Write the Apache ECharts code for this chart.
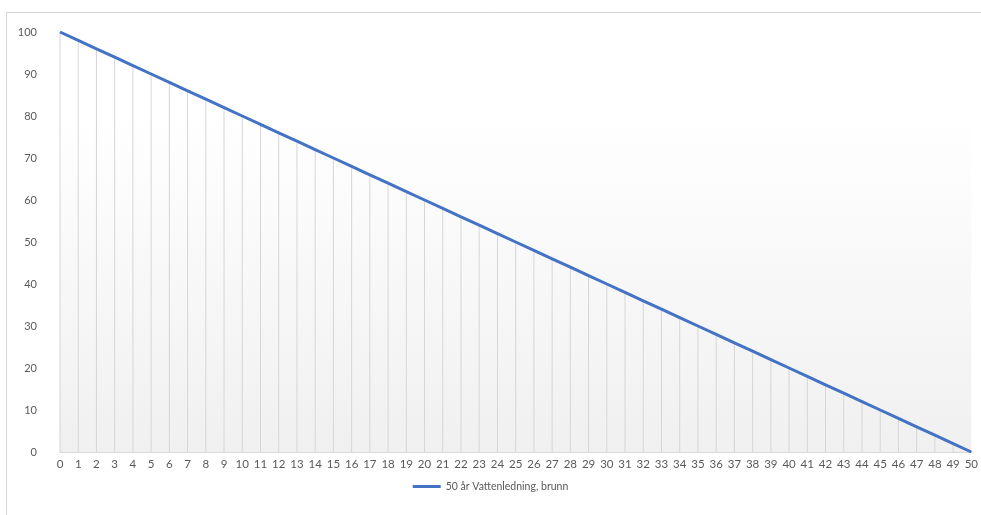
<!DOCTYPE html>
<html>
<head>
<meta charset="utf-8">
<script src="https://cdn.jsdelivr.net/npm/echarts@6/dist/echarts.min.js"></script>
<style>
  html, body { margin: 0; padding: 0; background: #ffffff; }
  #chart { width: 981px; height: 515px; }
</style>
</head>
<body>
<div id="chart"></div>
<script>
// Years of service life
const years = ['0','1','2','3','4','5','6','7','8','9','10','11','12','13','14','15','16','17','18','19','20',
  '21','22','23','24','25','26','27','28','29','30','31','32','33','34','35','36','37','38','39','40',
  '41','42','43','44','45','46','47','48','49','50'];

// Remaining value (%) per year
const remainingValue = [100,98,96,94,92,90,88,86,84,82,80,78,76,74,72,70,68,66,64,62,60,
  58,56,54,52,50,48,46,44,42,40,38,36,34,32,30,28,26,24,22,20,
  18,16,14,12,10,8,6,4,2,0];

const seriesName = '50 år Vattenledning, brunn';
const yTicks = { min: 0, max: 100, interval: 10 };

const chart = echarts.init(document.getElementById('chart'));
const fontFamily = 'Lato, "Liberation Sans", sans-serif';

chart.setOption({
  animation: false,
  backgroundColor: '#ffffff',
  textStyle: { fontFamily: fontFamily },
  graphic: [
    {
      type: 'rect',
      shape: { x: 6.5, y: 12.5, width: 990, height: 520 },
      style: { fill: 'none', stroke: '#d4d4d4', lineWidth: 1 },
      z: -10
    }
  ],
  grid: {
    left: 60, right: 9, top: 32, bottom: 63,
    show: true,
    borderWidth: 0,
    backgroundColor: {
      type: 'linear', x: 0, y: 0, x2: 0, y2: 1,
      colorStops: [
        { offset: 0, color: '#ffffff' },
        { offset: 0.2, color: '#ffffff' },
        { offset: 1, color: '#f0f0f0' }
      ]
    }
  },
  legend: {
    bottom: 18,
    left: 'center',
    itemWidth: 28,
    itemHeight: 3,
    itemGap: 4,
    icon: 'rect',
    data: [seriesName],
    textStyle: { color: '#595959', fontSize: 10.5, fontFamily: fontFamily }
  },
  xAxis: {
    type: 'category',
    data: years,
    boundaryGap: false,
    axisLine: { show: true, lineStyle: { color: '#d9d9d9', width: 1 } },
    axisTick: { show: false },
    axisLabel: { interval: 0, color: '#595959', fontSize: 11.5, margin: 6 },
    splitLine: { show: false }
  },
  yAxis: {
    type: 'value',
    min: yTicks.min,
    max: yTicks.max,
    interval: yTicks.interval,
    axisLine: { show: false },
    axisTick: { show: false },
    axisLabel: { color: '#595959', fontSize: 11, margin: 23 },
    splitLine: { show: false }
  },
  series: [
    {
      // drop lines from each point down to the axis
      type: 'bar',
      data: remainingValue,
      barWidth: 1,
      silent: true,
      legendHoverLink: false,
      itemStyle: { color: '#d6d6d6' },
      z: 1
    },
    {
      name: seriesName,
      type: 'line',
      data: remainingValue,
      showSymbol: false,
      symbol: 'none',
      lineStyle: { color: '#4472c4', width: 3 },
      itemStyle: { color: '#4472c4' },
      z: 3
    }
  ]
});
</script>
</body>
</html>
